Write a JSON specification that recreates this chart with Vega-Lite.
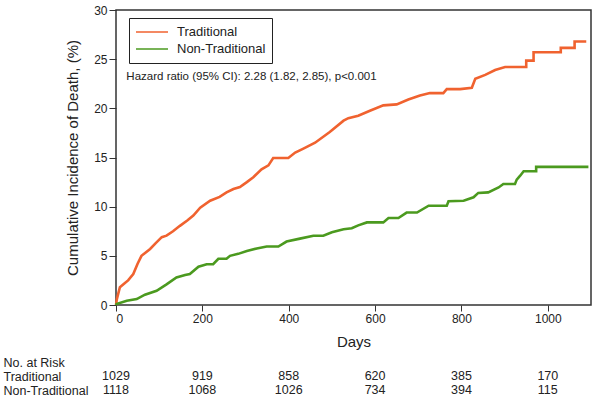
{
  "$schema": "https://vega.github.io/schema/vega-lite/v6.json",
  "padding": {"left": 3, "top": 3, "right": 5, "bottom": 0},
  "spacing": 5,
  "datasets": {
    "curves": [
      {"group": "Traditional", "day": 0, "inc": 0},
      {"group": "Traditional", "day": 2, "inc": 0.6},
      {"group": "Traditional", "day": 9, "inc": 1.8},
      {"group": "Traditional", "day": 20, "inc": 2.2},
      {"group": "Traditional", "day": 28, "inc": 2.5},
      {"group": "Traditional", "day": 40, "inc": 3.15},
      {"group": "Traditional", "day": 50, "inc": 4.2},
      {"group": "Traditional", "day": 59, "inc": 5.0},
      {"group": "Traditional", "day": 79, "inc": 5.7},
      {"group": "Traditional", "day": 92, "inc": 6.3},
      {"group": "Traditional", "day": 106, "inc": 6.9},
      {"group": "Traditional", "day": 117, "inc": 7.05},
      {"group": "Traditional", "day": 132, "inc": 7.5},
      {"group": "Traditional", "day": 148, "inc": 8.05},
      {"group": "Traditional", "day": 165, "inc": 8.6},
      {"group": "Traditional", "day": 179, "inc": 9.1},
      {"group": "Traditional", "day": 195, "inc": 9.9},
      {"group": "Traditional", "day": 218, "inc": 10.6},
      {"group": "Traditional", "day": 240, "inc": 11.0},
      {"group": "Traditional", "day": 256, "inc": 11.45},
      {"group": "Traditional", "day": 272, "inc": 11.8},
      {"group": "Traditional", "day": 287, "inc": 12.0},
      {"group": "Traditional", "day": 303, "inc": 12.5},
      {"group": "Traditional", "day": 318, "inc": 13.0},
      {"group": "Traditional", "day": 337, "inc": 13.8},
      {"group": "Traditional", "day": 353, "inc": 14.2},
      {"group": "Traditional", "day": 364, "inc": 14.95},
      {"group": "Traditional", "day": 399, "inc": 14.95},
      {"group": "Traditional", "day": 415, "inc": 15.5},
      {"group": "Traditional", "day": 434, "inc": 15.9},
      {"group": "Traditional", "day": 461, "inc": 16.5},
      {"group": "Traditional", "day": 495, "inc": 17.6},
      {"group": "Traditional", "day": 527, "inc": 18.75},
      {"group": "Traditional", "day": 538, "inc": 19.0},
      {"group": "Traditional", "day": 561, "inc": 19.25},
      {"group": "Traditional", "day": 588, "inc": 19.75},
      {"group": "Traditional", "day": 619, "inc": 20.3},
      {"group": "Traditional", "day": 650, "inc": 20.4},
      {"group": "Traditional", "day": 677, "inc": 20.9},
      {"group": "Traditional", "day": 704, "inc": 21.3},
      {"group": "Traditional", "day": 727, "inc": 21.55},
      {"group": "Traditional", "day": 758, "inc": 21.55},
      {"group": "Traditional", "day": 766, "inc": 21.95},
      {"group": "Traditional", "day": 797, "inc": 21.95},
      {"group": "Traditional", "day": 824, "inc": 22.1},
      {"group": "Traditional", "day": 832, "inc": 23.0},
      {"group": "Traditional", "day": 855, "inc": 23.4},
      {"group": "Traditional", "day": 878, "inc": 23.9},
      {"group": "Traditional", "day": 901, "inc": 24.2},
      {"group": "Traditional", "day": 950, "inc": 24.2},
      {"group": "Traditional", "day": 950, "inc": 24.85},
      {"group": "Traditional", "day": 967, "inc": 24.85},
      {"group": "Traditional", "day": 967, "inc": 25.7},
      {"group": "Traditional", "day": 1030, "inc": 25.7},
      {"group": "Traditional", "day": 1030, "inc": 26.15},
      {"group": "Traditional", "day": 1062, "inc": 26.15},
      {"group": "Traditional", "day": 1062, "inc": 26.8},
      {"group": "Traditional", "day": 1089, "inc": 26.8},
      {"group": "Non-Traditional", "day": 0, "inc": 0},
      {"group": "Non-Traditional", "day": 1, "inc": 0.1},
      {"group": "Non-Traditional", "day": 25, "inc": 0.44},
      {"group": "Non-Traditional", "day": 48, "inc": 0.6},
      {"group": "Non-Traditional", "day": 67, "inc": 1.05},
      {"group": "Non-Traditional", "day": 94, "inc": 1.45},
      {"group": "Non-Traditional", "day": 117, "inc": 2.1},
      {"group": "Non-Traditional", "day": 140, "inc": 2.8},
      {"group": "Non-Traditional", "day": 160, "inc": 3.05},
      {"group": "Non-Traditional", "day": 171, "inc": 3.15},
      {"group": "Non-Traditional", "day": 191, "inc": 3.9},
      {"group": "Non-Traditional", "day": 210, "inc": 4.15},
      {"group": "Non-Traditional", "day": 225, "inc": 4.15},
      {"group": "Non-Traditional", "day": 237, "inc": 4.7},
      {"group": "Non-Traditional", "day": 256, "inc": 4.7},
      {"group": "Non-Traditional", "day": 264, "inc": 5.0},
      {"group": "Non-Traditional", "day": 283, "inc": 5.2},
      {"group": "Non-Traditional", "day": 303, "inc": 5.5},
      {"group": "Non-Traditional", "day": 326, "inc": 5.75},
      {"group": "Non-Traditional", "day": 349, "inc": 5.95},
      {"group": "Non-Traditional", "day": 376, "inc": 5.95},
      {"group": "Non-Traditional", "day": 395, "inc": 6.45},
      {"group": "Non-Traditional", "day": 426, "inc": 6.75},
      {"group": "Non-Traditional", "day": 457, "inc": 7.05},
      {"group": "Non-Traditional", "day": 480, "inc": 7.05},
      {"group": "Non-Traditional", "day": 500, "inc": 7.4},
      {"group": "Non-Traditional", "day": 527, "inc": 7.7},
      {"group": "Non-Traditional", "day": 546, "inc": 7.8},
      {"group": "Non-Traditional", "day": 561, "inc": 8.1},
      {"group": "Non-Traditional", "day": 581, "inc": 8.4},
      {"group": "Non-Traditional", "day": 619, "inc": 8.4},
      {"group": "Non-Traditional", "day": 631, "inc": 8.85},
      {"group": "Non-Traditional", "day": 654, "inc": 8.85},
      {"group": "Non-Traditional", "day": 673, "inc": 9.4},
      {"group": "Non-Traditional", "day": 697, "inc": 9.4},
      {"group": "Non-Traditional", "day": 724, "inc": 10.1},
      {"group": "Non-Traditional", "day": 766, "inc": 10.1},
      {"group": "Non-Traditional", "day": 770, "inc": 10.55},
      {"group": "Non-Traditional", "day": 805, "inc": 10.6},
      {"group": "Non-Traditional", "day": 828, "inc": 10.95},
      {"group": "Non-Traditional", "day": 839, "inc": 11.4},
      {"group": "Non-Traditional", "day": 862, "inc": 11.45},
      {"group": "Non-Traditional", "day": 886, "inc": 11.95},
      {"group": "Non-Traditional", "day": 897, "inc": 12.3},
      {"group": "Non-Traditional", "day": 924, "inc": 12.3},
      {"group": "Non-Traditional", "day": 928, "inc": 12.75},
      {"group": "Non-Traditional", "day": 936, "inc": 13.15},
      {"group": "Non-Traditional", "day": 944, "inc": 13.6},
      {"group": "Non-Traditional", "day": 973, "inc": 13.6},
      {"group": "Non-Traditional", "day": 973, "inc": 14.05},
      {"group": "Non-Traditional", "day": 1094, "inc": 14.05}
    ],
    "risk": [
      {"group": "Traditional", "day": 0, "n": 1029},
      {"group": "Traditional", "day": 200, "n": 919},
      {"group": "Traditional", "day": 400, "n": 858},
      {"group": "Traditional", "day": 600, "n": 620},
      {"group": "Traditional", "day": 800, "n": 385},
      {"group": "Traditional", "day": 1000, "n": 170},
      {"group": "Non-Traditional", "day": 0, "n": 1118},
      {"group": "Non-Traditional", "day": 200, "n": 1068},
      {"group": "Non-Traditional", "day": 400, "n": 1026},
      {"group": "Non-Traditional", "day": 600, "n": 734},
      {"group": "Non-Traditional", "day": 800, "n": 394},
      {"group": "Non-Traditional", "day": 1000, "n": 115}
    ],
    "note": [
      {"label": "Hazard ratio (95% CI): 2.28 (1.82, 2.85), p<0.001", "day": 24, "inc": 23.2}
    ]
  },
  "vconcat": [
    {
      "width": 475,
      "height": 295,
      "view": {"stroke": "#333333", "strokeWidth": 1.5},
      "layer": [
        {
          "data": {"name": "curves"},
          "mark": {"type": "line", "strokeWidth": 2.6, "interpolate": "linear"},
          "encoding": {
            "x": {
              "field": "day", "type": "quantitative",
              "scale": {"domain": [0, 1100], "nice": false, "zero": false},
              "axis": {
                "title": "Days", "values": [0, 200, 400, 600, 800, 1000], "format": "d",
                "grid": false, "domain": false, "tickSize": 6, "tickColor": "#333333",
                "labelFontSize": 12, "labelColor": "#222222", "labelPadding": 2,
                "titleFontSize": 15, "titleFontWeight": "normal", "titleColor": "#222222",
                "titlePadding": 10
              }
            },
            "y": {
              "field": "inc", "type": "quantitative",
              "scale": {"domain": [0, 30], "nice": false},
              "axis": {
                "title": "Cumulative Incidence of Death, (%)", "values": [0, 5, 10, 15, 20, 25, 30],
                "grid": false, "domain": false, "tickSize": 7, "tickColor": "#333333",
                "labelFontSize": 12, "labelColor": "#222222", "labelPadding": 2,
                "titleFontSize": 15, "titleFontWeight": "normal", "titleColor": "#222222",
                "titlePadding": 13
              }
            },
            "color": {
              "field": "group", "type": "nominal",
              "scale": {"domain": ["Traditional", "Non-Traditional"], "range": ["#F0622F", "#4B9A1F"]},
              "legend": {
                "title": null, "orient": "none", "legendX": 13, "legendY": 8,
                "strokeColor": "#222222", "fillColor": "white", "padding": 6,
                "symbolType": "stroke", "symbolSize": 1024, "symbolStrokeWidth": 1.5,
                "clipHeight": 16,
                "labelFontSize": 13, "labelColor": "#222222", "labelOffset": 8, "rowPadding": 1
              }
            },
            "detail": {"field": "group"}
          }
        },
        {
          "data": {"name": "note"},
          "mark": {"type": "text", "align": "left", "baseline": "middle", "fontSize": 11.5, "color": "#222222"},
          "encoding": {
            "x": {"field": "day", "type": "quantitative"},
            "y": {"field": "inc", "type": "quantitative"},
            "text": {"field": "label"}
          }
        }
      ]
    },
    {
      "width": 475,
      "height": 42,
      "view": {"stroke": null},
      "data": {"name": "risk"},
      "mark": {"type": "text", "align": "center", "baseline": "middle", "fontSize": 12.5, "color": "#222222"},
      "encoding": {
        "x": {"field": "day", "type": "quantitative", "scale": {"domain": [0, 1100], "nice": false}, "axis": null},
        "y": {
          "field": "group", "type": "nominal",
          "scale": {"domain": ["No. at Risk", "Traditional", "Non-Traditional"], "paddingInner": 0, "paddingOuter": 0},
          "axis": {"title": null, "domain": false, "ticks": false, "labelAlign": "left", "labelPadding": 113, "labelFontSize": 12.5, "labelColor": "#222222"}
        },
        "text": {"field": "n"}
      }
    }
  ],
  "config": {
    "font": "Liberation Sans",
    "axis": {"labelFont": "Liberation Sans", "titleFont": "Liberation Sans"},
    "legend": {"labelFont": "Liberation Sans"},
    "text": {"font": "Liberation Sans"}
  }
}
